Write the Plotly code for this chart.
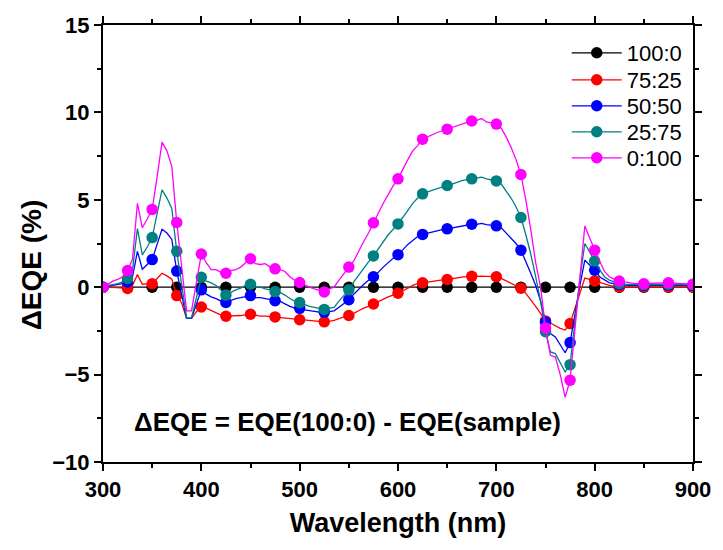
import plotly.graph_objects as go

# Wavelength grid of the measured curves (nm)
wavelength = list(range(300, 905, 5))

# Series names and colours
series_names = ["100:0", "75:25", "50:50", "25:75", "0:100"]
series_colors = ["#000000", "#FF0000", "#0000FF", "#008080", "#FF00FF"]

# Delta EQE (%) values on the 5 nm grid
eqe_100_0 = [
    0, 0, 0, 0, 0, 0, 0, 0, 0, 0, 0, 0, 0, 0, 0, 0, 0, 0, 0, 0,
    0, 0, 0, 0, 0, 0, 0, 0, 0, 0, 0, 0, 0, 0, 0, 0, 0, 0, 0, 0,
    0, 0, 0, 0, 0, 0, 0, 0, 0, 0, 0, 0, 0, 0, 0, 0, 0, 0, 0, 0,
    0, 0, 0, 0, 0, 0, 0, 0, 0, 0, 0, 0, 0, 0, 0, 0, 0, 0, 0, 0,
    0, 0, 0, 0, 0, 0, 0, 0, 0, 0, 0, 0, 0, 0, 0, 0, 0, 0, 0, 0,
    0, 0, 0, 0, 0, 0, 0, 0, 0, 0, 0, 0, 0, 0, 0, 0, 0, 0, 0, 0,
    0,
]

eqe_75_25 = [
    0, 0.0, 0.0, -0.02, -0.05, -0.07, 0.1, 0.72, 0.17, 0.2,          # 300-345
    0.2, 0.5, 0.8, 0.65, 0.46, -0.48, -0.9, -1.78, -1.78, -1.4,       # 350-395
    -1.13, -1.2, -1.32, -1.45, -1.6, -1.66, -1.65, -1.65, -1.62, -1.58,  # 400-445
    -1.55, -1.6, -1.65, -1.65, -1.68, -1.7, -1.72, -1.75, -1.8, -1.84,   # 450-495
    -1.86, -1.9, -1.92, -1.95, -1.97, -1.98, -1.95, -1.9, -1.8, -1.7,    # 500-545
    -1.62, -1.5, -1.35, -1.2, -1.1, -0.96, -0.82, -0.7, -0.55, -0.45,    # 550-595
    -0.34, -0.2, -0.05, 0.1, 0.2, 0.25, 0.3, 0.35, 0.38, 0.42,           # 600-645
    0.44, 0.5, 0.55, 0.58, 0.6, 0.62, 0.63, 0.63, 0.62, 0.6,             # 650-695
    0.6, 0.5, 0.35, 0.2, 0.05, -0.06, -0.35, -0.7, -1.1, -1.5,           # 700-745
    -1.93, -2.05, -2.2, -2.35, -2.45, -2.08, -1.2, -0.3, 0.52, 0.45,     # 750-795
    0.36, 0.25, 0.15, 0.1, 0.05, 0.02, 0.02, 0.02, 0.02, 0.02,           # 800-845
    0.02, 0.02, 0.02, 0.02, 0.02, 0.02, 0.02, 0.02, 0.02, 0.02,          # 850-895
    0.02,                                                                # 900
]

eqe_50_50 = [
    0, 0.05, 0.1, 0.15, 0.2, 0.3, 0.6, 2.05, 1.03, 1.3,
    1.58, 2.45, 3.31, 3.1, 2.73, 0.92, -0.4, -1.78, -1.78, -1.0,
    -0.15, -0.4, -0.55, -0.65, -0.8, -0.87, -0.75, -0.65, -0.6, -0.55,
    -0.48, -0.6, -0.6, -0.65, -0.7, -0.77, -0.8, -0.95, -1.1, -1.2,
    -1.21, -1.3, -1.35, -1.4, -1.42, -1.44, -1.4, -1.35, -1.15, -0.95,
    -0.72, -0.4, -0.1, 0.15, 0.4, 0.6, 0.85, 1.15, 1.4, 1.65,
    1.86, 2.15, 2.45, 2.7, 2.9, 3.02, 3.1, 3.18, 3.25, 3.3,
    3.34, 3.4, 3.45, 3.5, 3.55, 3.6, 3.6, 3.65, 3.58, 3.55,
    3.51, 3.4, 3.1, 2.8, 2.5, 2.12, 1.5, 0.8, 0.1, -0.8,
    -2.0, -2.65, -2.85, -3.3, -3.75, -3.17, -1.5, 0.1, 1.55, 1.25,
    0.97, 0.6, 0.4, 0.25, 0.2, 0.15, 0.12, 0.1, 0.1, 0.1,
    0.1, 0.1, 0.1, 0.1, 0.1, 0.12, 0.12, 0.12, 0.1, 0.1,
    0.1,
]

eqe_25_75 = [
    0, 0.1, 0.15, 0.2, 0.3, 0.5, 1.0, 3.35, 1.85, 2.3,
    2.84, 4.2, 5.57, 5.1, 4.5, 2.05, 0.0, -1.75, -1.75, -0.6,
    0.57, 0.35, 0.25, 0.1, -0.2, -0.45, -0.3, -0.15, -0.05, 0.1,
    0.17, 0.0, 0.0, -0.1, -0.15, -0.25, -0.3, -0.45, -0.65, -0.8,
    -0.88, -1.0, -1.1, -1.15, -1.2, -1.27, -1.2, -1.15, -0.8, -0.45,
    -0.15, 0.3, 0.7, 1.1, 1.45, 1.79, 2.2, 2.6, 3.0, 3.3,
    3.62, 4.0, 4.4, 4.8, 5.1, 5.34, 5.45, 5.55, 5.65, 5.75,
    5.82, 5.9, 6.0, 6.1, 6.15, 6.2, 6.22, 6.3, 6.2, 6.15,
    6.08, 5.9, 5.5, 5.1, 4.6, 3.99, 3.0, 1.9, 0.6, -0.8,
    -2.55, -3.7, -3.8, -4.3, -4.85, -4.43, -2.0, 0.5, 2.5, 2.0,
    1.5, 1.0, 0.6, 0.4, 0.3, 0.2, 0.17, 0.15, 0.15, 0.15,
    0.15, 0.15, 0.15, 0.15, 0.15, 0.17, 0.17, 0.17, 0.15, 0.15,
    0.15,
]

eqe_0_100 = [
    0, 0.2, 0.35, 0.45, 0.6, 0.95, 1.6, 4.8, 3.4, 3.9,
    4.45, 6.3, 8.3, 7.8, 6.9, 3.7, 1.0, -1.35, -1.35, 0.3,
    1.9, 1.4, 1.0, 1.0, 0.85, 0.8, 0.95, 1.0, 1.15, 1.4,
    1.63, 1.35, 1.3, 1.35, 1.15, 1.05, 1.0, 0.9, 0.6, 0.4,
    0.27, 0.1, 0.0, -0.1, -0.2, -0.27, -0.1, 0.0, 0.4, 0.8,
    1.15, 1.5, 2.1, 2.6, 3.1, 3.68, 4.3, 4.8, 5.3, 5.8,
    6.2, 6.8, 7.3, 7.8, 8.1, 8.47, 8.6, 8.75, 8.85, 8.95,
    9.04, 9.15, 9.25, 9.3, 9.4, 9.51, 9.55, 9.65, 9.45, 9.4,
    9.33, 9.1, 8.6, 8.0, 7.3, 6.45, 5.0, 3.3, 1.4, 0.0,
    -2.33, -3.9, -4.0, -5.0, -6.3, -5.32, -2.5, 0.5, 3.5, 2.8,
    2.12, 1.5, 0.9, 0.6, 0.45, 0.35, 0.3, 0.25, 0.22, 0.2,
    0.2, 0.2, 0.2, 0.22, 0.24, 0.25, 0.24, 0.22, 0.2, 0.18,
    0.17,
]

series_values = [eqe_100_0, eqe_75_25, eqe_50_50, eqe_25_75, eqe_0_100]

# Tick values
x_ticks = [300, 400, 500, 600, 700, 800, 900]
y_ticks = [-10, -5, 0, 5, 10, 15]

FONT = "Arial, 'Liberation Sans', sans-serif"

fig = go.Figure()

for name, color, vals in zip(series_names, series_colors, series_values):
    # continuous measured curve
    fig.add_trace(go.Scatter(
        x=wavelength, y=vals, mode="lines",
        line=dict(color=color, width=1.3),
        showlegend=False, hoverinfo="skip",
    ))
    # symbols every 25 nm
    mx = [w for w in wavelength if w % 25 == 0]
    my = [v for w, v in zip(wavelength, vals) if w % 25 == 0]
    fig.add_trace(go.Scatter(
        x=mx, y=my, mode="markers",
        marker=dict(color=color, size=11.5, symbol="circle", line=dict(width=0)),
        showlegend=False,
    ))

# legend entries (line + symbol), one small legend per entry for tight spacing
legend_ids = ["legend", "legend2", "legend3", "legend4", "legend5"]
for name, color, lid in zip(series_names, series_colors, legend_ids):
    fig.add_trace(go.Scatter(
        x=[None], y=[None], mode="lines+markers", name=name,
        line=dict(color=color, width=1.3),
        marker=dict(color=color, size=11.5),
        legend=lid,
    ))

fig.add_annotation(
    x=549, y=-7.7, xref="x", yref="y",
    text="ΔEQE = EQE(100:0) - EQE(sample)",
    showarrow=False, xanchor="center", yanchor="middle",
    font=dict(family=FONT, size=26, color="black", weight="bold"),
)

# y-axis title placed as rotated text
fig.add_annotation(
    x=-0.122, y=0.45, xref="paper", yref="paper",
    text="ΔEQE (%)", textangle=-90,
    showarrow=False, xanchor="center", yanchor="middle",
    font=dict(family=FONT, size=28, color="black", weight="bold"),
)

axis_common = dict(
    showline=True, linecolor="black", linewidth=2, mirror="ticks",
    ticks="outside", ticklen=7, tickwidth=1.5, tickcolor="black",
    showgrid=False, zeroline=False,
    tickfont=dict(family=FONT, size=22, color="black", weight="bold"),
)

fig.update_xaxes(
    range=[300, 900], tickvals=x_ticks,
    minor=dict(dtick=50, tick0=300, ticks="outside", ticklen=4, tickwidth=1.5, tickcolor="black"),
    title=dict(text="Wavelength (nm)", font=dict(family=FONT, size=27, color="black", weight="bold"), standoff=12),
    **axis_common,
)
fig.update_yaxes(
    range=[-10, 15], tickvals=y_ticks,
    minor=dict(dtick=2.5, tick0=0, ticks="outside", ticklen=4, tickwidth=1.5, tickcolor="black"),
    **axis_common,
)

# legend entry centres in pixels (from top of the figure): 53, 80, 106, 132, 158
plot_top, plot_h = 25, 437
legend_centers_px = [53, 80, 106, 132, 158]
legend_layouts = {}
for lid, cy in zip(legend_ids, legend_centers_px):
    legend_layouts[lid] = dict(
        x=0.786, y=(plot_top + plot_h - cy) / plot_h, xanchor="left", yanchor="middle",
        bgcolor="rgba(0,0,0,0)", borderwidth=0,
        font=dict(family=FONT, size=22, color="black"),
        itemwidth=50,
    )

fig.update_layout(
    width=723, height=550,
    margin=dict(l=103, r=25, t=25, b=88),
    plot_bgcolor="white", paper_bgcolor="white",
    showlegend=True,
    **legend_layouts,
)

fig.write_html("out.html")
